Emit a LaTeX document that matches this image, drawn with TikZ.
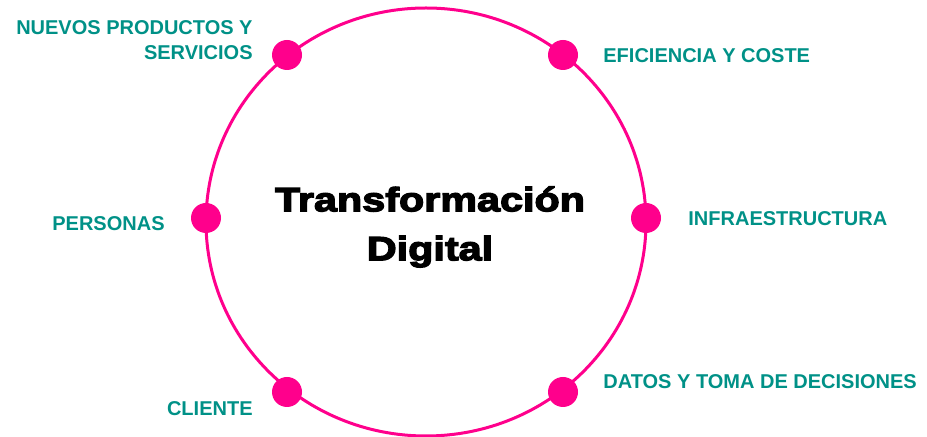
\documentclass[tikz,border=0pt]{standalone}
\usepackage{fontspec}
\setmainfont{Liberation Sans}
\newfontfamily\titlefont{Liberation Sans Bold}[FakeBold=4, FakeStretch=1.23]
\usepackage{tikz}
\definecolor{ringpink}{RGB}{255,0,140}
\definecolor{labelteal}{RGB}{0,145,135}
\tikzset{
  ring/.style={draw=ringpink, line width=1.5pt},
  dot/.style={circle, fill=ringpink, minimum size=15pt, inner sep=0pt},
  lbl/.style={font=\fontsize{10}{12.5}\selectfont\bfseries, text=labelteal, inner sep=0pt},
  core/.style={font=\titlefont\fontsize{16.8}{24.5}\selectfont, align=center, inner sep=0pt}
}
\begin{document}
\begin{tikzpicture}[x=0.5pt, y=-0.5pt]
\useasboundingbox (0,0) rectangle (927,437);
\draw[ring] (426,222) ellipse [x radius=220, y radius=214];
% dots round the ring
\node[dot] (nps) at (287,55) {};
\node[dot] (efc) at (563,55) {};
\node[dot] (inf) at (646,218) {};
\node[dot] (dtd) at (563,392) {};
\node[dot] (cli) at (287,392) {};
\node[dot] (per) at (206,218) {};
% labels
\node[lbl, anchor=east, align=right] (npsl) at (253,40) {NUEVOS PRODUCTOS Y\\SERVICIOS};
\node[lbl, anchor=west] (efcl) at (603,56) {EFICIENCIA Y COSTE};
\node[lbl, anchor=west] (infl) at (688,218.5) {INFRAESTRUCTURA};
\node[lbl, anchor=west] (dtdl) at (603,381.5) {DATOS Y TOMA DE DECISIONES};
\node[lbl, anchor=east] (clil) at (253,408.5) {CLIENTE};
\node[lbl, anchor=east] (perl) at (165,224) {PERSONAS};
% centre
\node[core] (tdig) at (430,227) {Transformación\\Digital};
\end{tikzpicture}
\end{document}
